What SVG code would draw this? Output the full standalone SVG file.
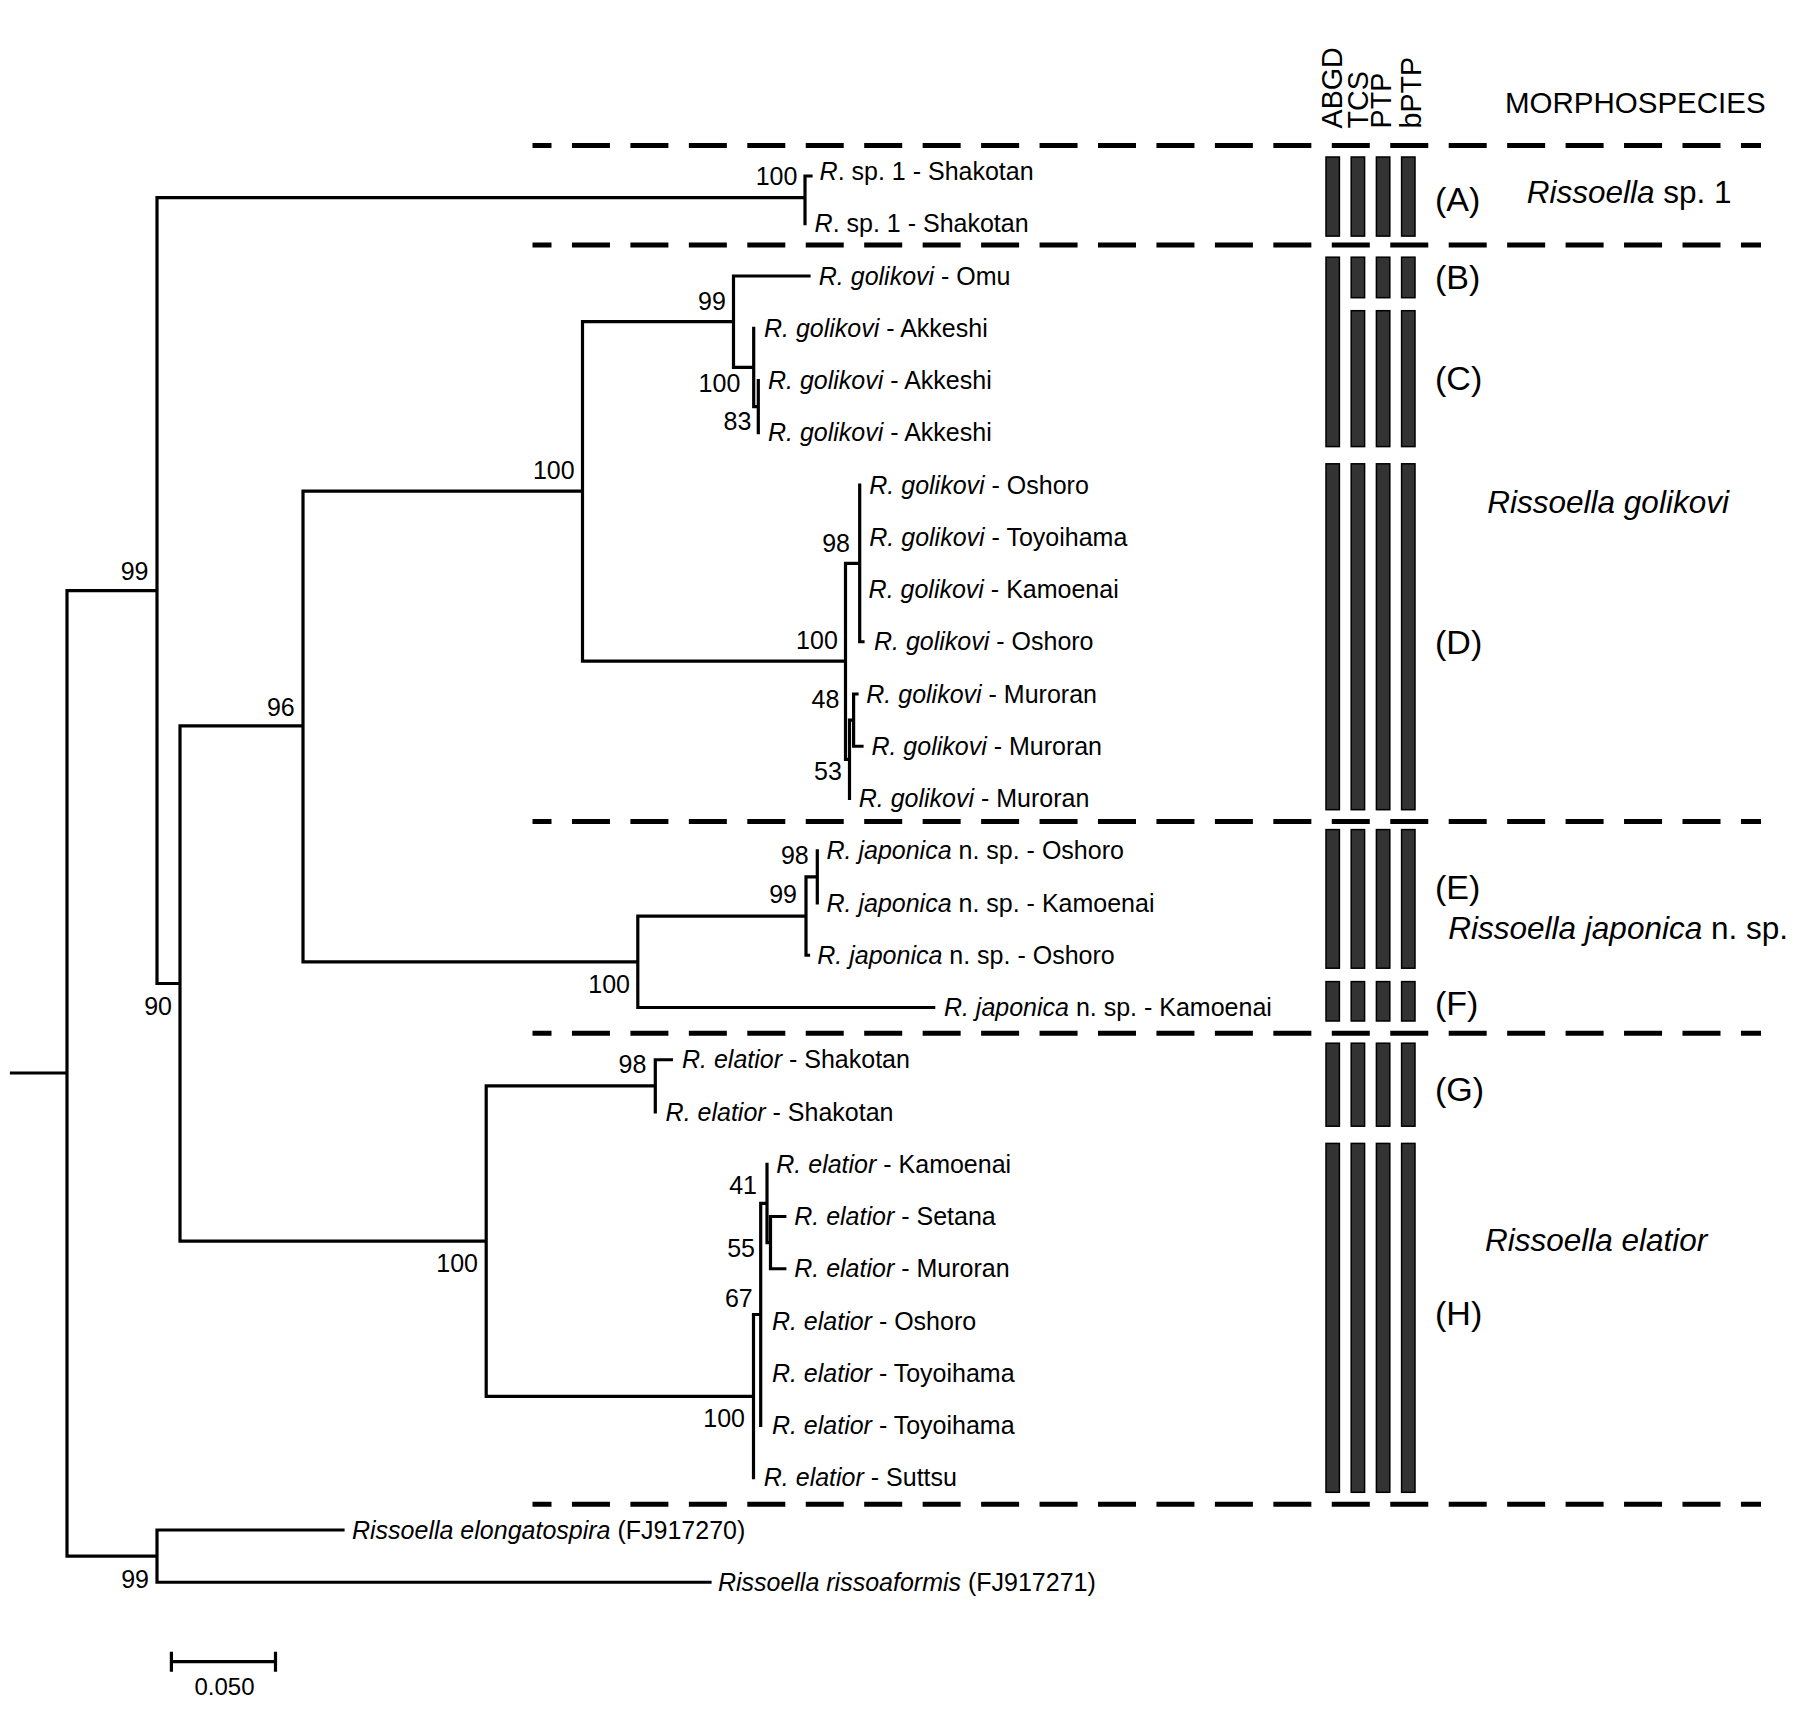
<svg xmlns="http://www.w3.org/2000/svg" width="1801" height="1722" viewBox="0 0 1801 1722">
<style>
text{font-family:"Liberation Sans",Arial,sans-serif;fill:#000}
.leaf{font-size:25px}
.sup{font-size:25px;text-anchor:end}
.it{font-style:italic}
.br{fill:none;stroke:#000;stroke-width:3.2;stroke-linecap:square}
.dash{fill:none;stroke:#000;stroke-width:5;stroke-dasharray:38 20.45;stroke-dashoffset:19}
.bar{fill:#333;stroke:#000;stroke-width:1.5}
.grp{font-size:34px}
.morph{font-size:31.5px}
.hdr{font-size:28.7px}
</style>
<rect width="1801" height="1722" fill="#fff"/>
<g id="connectors">
<path class="br" d="M11.5,1073H67 M67,590.6V1556.1 M67,590.6H157 M67,1556.1H157
M157,197.6V983.5 M157,197.6H805 M805,176V223.75 M805,176H811
M157,983.5H180 M180,725.8V1241.2 M180,725.8H303 M180,1241.2H486.2
M303,491.2V961.8 M303,491.2H582.5 M303,961.8H637.8
M582.5,321.7V661.2 M582.5,321.7H733.5 M582.5,661.2H845.5
M733.5,276V367.4 M733.5,276H809 M733.5,367.4H753.7
M753.7,328.25V406.6 M753.7,406.6H758.3 M758.3,380.5V432.75
M845.5,563.4V759.3 M845.5,563.4H859.7 M859.7,485V641.75 M859.7,641.75H863
M845.5,759.3H849.5 M849.5,720.1V798.5 M849.5,720.1H853.6 M853.6,694V746.25 M853.6,694H857 M853.6,746.25H862
M637.8,916.1V1007.5 M637.8,916.1H806 M637.8,1007.5H933.7
M806,876.9V955.25 M806,955.25H808.5 M806,876.9H817.3 M817.3,850.75V903
M486.2,1085.9V1396.3 M486.2,1085.9H655.3 M655.3,1059.75V1112 M655.3,1059.75H671.4
M486.2,1396.3H753.5 M753.5,1314.5V1477.75 M753.5,1314.5H760.7
M760.7,1203.4V1425.5 M760.7,1203.4H767 M767,1164.25V1242.6 M767,1242.6H770.5
M770.5,1216.5V1268.75 M770.5,1216.5H784.8 M770.5,1268.75H784.8
M157,1530V1582.25 M157,1530H343 M157,1582.25H710"/>
</g>
<g id="support-values">
<text class="sup" x="148.5" y="579.7">99</text>
<text class="sup" x="797.4" y="185">100</text>
<text class="sup" x="172" y="1015">90</text>
<text class="sup" x="294.7" y="715.5">96</text>
<text class="sup" x="574.6" y="479">100</text>
<text class="sup" x="725.8" y="310">99</text>
<text class="sup" x="740.3" y="391.7">100</text>
<text class="sup" x="751.4" y="430">83</text>
<text class="sup" x="850" y="551.7">98</text>
<text class="sup" x="837.8" y="649.3">100</text>
<text class="sup" x="839.3" y="708.3">48</text>
<text class="sup" x="841.8" y="780">53</text>
<text class="sup" x="808.7" y="864">98</text>
<text class="sup" x="797" y="903.3">99</text>
<text class="sup" x="630" y="992.7">100</text>
<text class="sup" x="646.4" y="1073.3">98</text>
<text class="sup" x="478" y="1271.7">100</text>
<text class="sup" x="757" y="1194">41</text>
<text class="sup" x="755" y="1257.3">55</text>
<text class="sup" x="752.7" y="1307.3">67</text>
<text class="sup" x="745" y="1426.7">100</text>
<text class="sup" x="149" y="1588.3">99</text>
</g>
<g id="leaf-01"><text class="leaf" x="819.6" y="180"><tspan class="it">R</tspan>. sp. 1 - Shakotan</text></g>
<g id="leaf-02"><text class="leaf" x="814.6" y="232.25"><tspan class="it">R</tspan>. sp. 1 - Shakotan</text></g>
<g id="leaf-03"><text class="leaf" x="818.8" y="284.5"><tspan class="it">R. golikovi</tspan> - Omu</text></g>
<g id="leaf-04"><text class="leaf" x="764" y="336.75"><tspan class="it">R. golikovi</tspan> - Akkeshi</text></g>
<g id="leaf-05"><text class="leaf" x="768" y="389"><tspan class="it">R. golikovi</tspan> - Akkeshi</text></g>
<g id="leaf-06"><text class="leaf" x="768" y="441.25"><tspan class="it">R. golikovi</tspan> - Akkeshi</text></g>
<g id="leaf-07"><text class="leaf" x="869.3" y="493.5"><tspan class="it">R. golikovi</tspan> - Oshoro</text></g>
<g id="leaf-08"><text class="leaf" x="869.3" y="545.75"><tspan class="it">R. golikovi</tspan> - Toyoihama</text></g>
<g id="leaf-09"><text class="leaf" x="868.6" y="598"><tspan class="it">R. golikovi</tspan> - Kamoenai</text></g>
<g id="leaf-10"><text class="leaf" x="874" y="650.25"><tspan class="it">R. golikovi</tspan> - Oshoro</text></g>
<g id="leaf-11"><text class="leaf" x="866.3" y="702.5"><tspan class="it">R. golikovi</tspan> - Muroran</text></g>
<g id="leaf-12"><text class="leaf" x="871.4" y="754.75"><tspan class="it">R. golikovi</tspan> - Muroran</text></g>
<g id="leaf-13"><text class="leaf" x="858.7" y="807"><tspan class="it">R. golikovi</tspan> - Muroran</text></g>
<g id="leaf-14"><text class="leaf" x="826.5" y="859.25"><tspan class="it">R. japonica</tspan> n. sp. - Oshoro</text></g>
<g id="leaf-15"><text class="leaf" x="826.5" y="911.5"><tspan class="it">R. japonica</tspan> n. sp. - Kamoenai</text></g>
<g id="leaf-16"><text class="leaf" x="817.3" y="963.75"><tspan class="it">R. japonica</tspan> n. sp. - Oshoro</text></g>
<g id="leaf-17"><text class="leaf" x="943.9" y="1016"><tspan class="it">R. japonica</tspan> n. sp. - Kamoenai</text></g>
<g id="leaf-18"><text class="leaf" x="682" y="1068.25"><tspan class="it">R. elatior</tspan> - Shakotan</text></g>
<g id="leaf-19"><text class="leaf" x="665.6" y="1120.5"><tspan class="it">R. elatior</tspan> - Shakotan</text></g>
<g id="leaf-20"><text class="leaf" x="776.3" y="1172.75"><tspan class="it">R. elatior</tspan> - Kamoenai</text></g>
<g id="leaf-21"><text class="leaf" x="794.2" y="1225"><tspan class="it">R. elatior</tspan> - Setana</text></g>
<g id="leaf-22"><text class="leaf" x="794.2" y="1277.25"><tspan class="it">R. elatior</tspan> - Muroran</text></g>
<g id="leaf-23"><text class="leaf" x="771.9" y="1329.5"><tspan class="it">R. elatior</tspan> - Oshoro</text></g>
<g id="leaf-24"><text class="leaf" x="771.9" y="1381.75"><tspan class="it">R. elatior</tspan> - Toyoihama</text></g>
<g id="leaf-25"><text class="leaf" x="771.9" y="1434"><tspan class="it">R. elatior</tspan> - Toyoihama</text></g>
<g id="leaf-26"><text class="leaf" x="763.8" y="1486.25"><tspan class="it">R. elatior</tspan> - Suttsu</text></g>
<g id="leaf-27"><text class="leaf" x="352" y="1538.5"><tspan class="it">Rissoella elongatospira</tspan> (FJ917270)</text></g>
<g id="leaf-28"><text class="leaf" x="717.9" y="1590.75"><tspan class="it">Rissoella rissoaformis</tspan> (FJ917271)</text></g>
<g id="separators">
<path class="dash" d="M532.5,145.4H1761 M532.5,245H1761 M532.5,821.5H1761 M532.5,1033.3H1761 M532.5,1504.3H1761"/>
</g>
<g id="headers">
<text class="hdr" transform="translate(1341.7,128.5) rotate(-90)">ABGD</text>
<text class="hdr" transform="translate(1368,128.5) rotate(-90)">TCS</text>
<text class="hdr" transform="translate(1390.5,128.5) rotate(-90)">PTP</text>
<text class="hdr" transform="translate(1421,128.5) rotate(-90)">bPTP</text>
<text x="1505" y="113" style="font-size:29.5px">MORPHOSPECIES</text>
</g>
<g id="group-A">
<rect class="bar" x="1326" y="157" width="13.4" height="79.1"/>
<rect class="bar" x="1351.2" y="157" width="13.4" height="79.1"/>
<rect class="bar" x="1376.4" y="157" width="13.4" height="79.1"/>
<rect class="bar" x="1401.6" y="157" width="13.4" height="79.1"/>
<text class="grp" x="1435" y="210.5">(A)</text>
</g>
<g id="group-B">
<rect class="bar" x="1326" y="257.2" width="13.4" height="189.4"/>
<rect class="bar" x="1351.2" y="257.2" width="13.4" height="40.5"/>
<rect class="bar" x="1376.4" y="257.2" width="13.4" height="40.5"/>
<rect class="bar" x="1401.6" y="257.2" width="13.4" height="40.5"/>
<text class="grp" x="1435" y="289">(B)</text>
</g>
<g id="group-C">
<rect class="bar" x="1351.2" y="310.7" width="13.4" height="135.9"/>
<rect class="bar" x="1376.4" y="310.7" width="13.4" height="135.9"/>
<rect class="bar" x="1401.6" y="310.7" width="13.4" height="135.9"/>
<text class="grp" x="1435" y="390.4">(C)</text>
</g>
<g id="group-D">
<rect class="bar" x="1326" y="463.8" width="13.4" height="345.9"/>
<rect class="bar" x="1351.2" y="463.8" width="13.4" height="345.9"/>
<rect class="bar" x="1376.4" y="463.8" width="13.4" height="345.9"/>
<rect class="bar" x="1401.6" y="463.8" width="13.4" height="345.9"/>
<text class="grp" x="1435" y="653.6">(D)</text>
</g>
<g id="group-E">
<rect class="bar" x="1326" y="829.6" width="13.4" height="138.6"/>
<rect class="bar" x="1351.2" y="829.6" width="13.4" height="138.6"/>
<rect class="bar" x="1376.4" y="829.6" width="13.4" height="138.6"/>
<rect class="bar" x="1401.6" y="829.6" width="13.4" height="138.6"/>
<text class="grp" x="1435" y="898.5">(E)</text>
</g>
<g id="group-F">
<rect class="bar" x="1326" y="981.6" width="13.4" height="39.4"/>
<rect class="bar" x="1351.2" y="981.6" width="13.4" height="39.4"/>
<rect class="bar" x="1376.4" y="981.6" width="13.4" height="39.4"/>
<rect class="bar" x="1401.6" y="981.6" width="13.4" height="39.4"/>
<text class="grp" x="1435" y="1015.2">(F)</text>
</g>
<g id="group-G">
<rect class="bar" x="1326" y="1043.2" width="13.4" height="83"/>
<rect class="bar" x="1351.2" y="1043.2" width="13.4" height="83"/>
<rect class="bar" x="1376.4" y="1043.2" width="13.4" height="83"/>
<rect class="bar" x="1401.6" y="1043.2" width="13.4" height="83"/>
<text class="grp" x="1435" y="1101.3">(G)</text>
</g>
<g id="group-H">
<rect class="bar" x="1326" y="1143.4" width="13.4" height="348.9"/>
<rect class="bar" x="1351.2" y="1143.4" width="13.4" height="348.9"/>
<rect class="bar" x="1376.4" y="1143.4" width="13.4" height="348.9"/>
<rect class="bar" x="1401.6" y="1143.4" width="13.4" height="348.9"/>
<text class="grp" x="1435" y="1325">(H)</text>
</g>
<g id="morphospecies">
<text class="morph" x="1526.7" y="202.8"><tspan class="it">Rissoella</tspan> sp. 1</text>
<text class="morph it" x="1487.3" y="512.8">Rissoella golikovi</text>
<text class="morph" x="1448.3" y="938.7"><tspan class="it">Rissoella japonica</tspan> n. sp.</text>
<text class="morph it" x="1485" y="1251">Rissoella elatior</text>
</g>
<g id="scale-bar">
<path class="br" style="stroke-linecap:butt" d="M171.4,1661.7H275.5 M171.4,1651.7V1671.7 M275.5,1651.7V1671.7"/>
<text x="224.5" y="1695" style="font-size:24px;text-anchor:middle">0.050</text>
</g>
</svg>
